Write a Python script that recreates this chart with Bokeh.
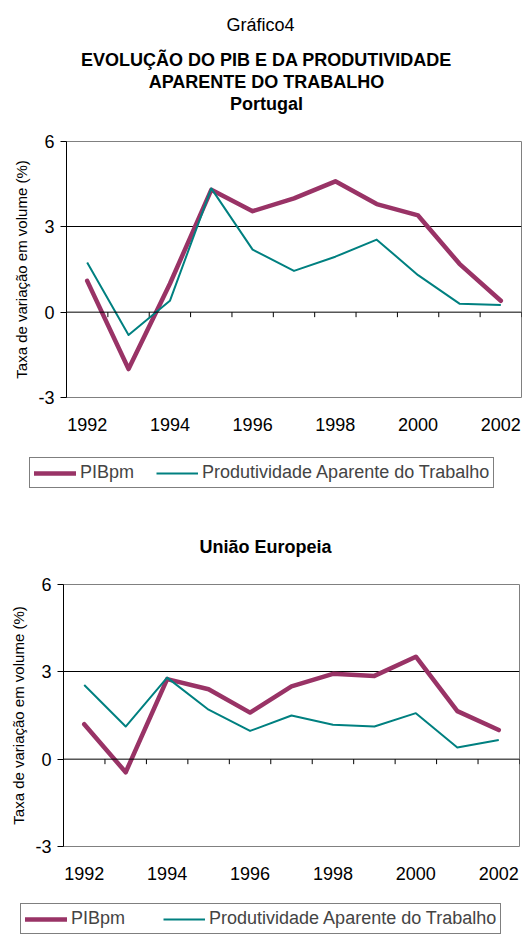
from bokeh.plotting import figure
from bokeh.models import Label, Legend, LegendItem, Span, FixedTicker
from bokeh.layouts import column
from bokeh.embed import file_html
from bokeh.resources import INLINE

# ---- data ----
years = ["1992", "1993", "1994", "1995", "1996", "1997", "1998", "1999", "2000", "2001", "2002"]
pt_pib = [1.1, -2.0, 1.0, 4.3, 3.55, 4.0, 4.6, 3.8, 3.4, 1.7, 0.4]
pt_prod = [1.75, -0.8, 0.4, 4.35, 2.2, 1.45, 1.95, 2.55, 1.3, 0.3, 0.25]
ue_pib = [1.2, -0.45, 2.75, 2.4, 1.6, 2.5, 2.93, 2.86, 3.52, 1.65, 1.0]
ue_prod = [2.55, 1.12, 2.8, 1.7, 0.97, 1.5, 1.18, 1.12, 1.58, 0.4, 0.66]
y_ticks = [-3, 0, 3, 6]
label_years = years[::2]
series_names = ["PIBpm", "Produtividade Aparente do Trabalho"]

FONT = "Liberation Sans"
PIB_COLOR = "#993366"
PROD_COLOR = "#008080"
W = 522
NAN = float("nan")


def blank(height):
    p = figure(width=W, height=height, x_range=(0, 1), y_range=(0, 1),
               x_axis_type=None, y_axis_type=None, output_backend="svg",
               toolbar_location=None, min_border=0, frame_align=False)
    p.outline_line_color = None
    p.grid.visible = False
    return p


def add_text(p, txt, x, y, bold):
    p.add_layout(Label(x=x, y=y, x_units="screen", y_units="screen", text=txt,
                       text_align="center", text_baseline="alphabetic",
                       text_font=FONT, text_font_size="18px",
                       text_font_style="bold" if bold else "normal",
                       text_color="black"))


def add_legend(p, x, y, spacing):
    # legend-only renderers (nothing visible in the frame)
    r1 = p.line([NAN], [NAN], line_color=PIB_COLOR, line_width=4.5, line_cap="round")
    r2 = p.line([NAN], [NAN], line_color=PROD_COLOR, line_width=2)
    legend = Legend(items=[LegendItem(label=series_names[0], renderers=[r1]),
                           LegendItem(label=series_names[1], renderers=[r2])],
                    orientation="horizontal", location=(x, y),
                    label_text_font=FONT, label_text_font_size="18px",
                    glyph_width=42, glyph_height=20, label_height=20,
                    label_standoff=4, spacing=spacing, padding=4, margin=0,
                    border_line_color="black", border_line_width=1,
                    background_fill_color="white", background_fill_alpha=1)
    p.add_layout(legend)


def make_chart(pib, prod, height, mb_left, mb_right, mb_top, mb_bottom):
    n = len(years)
    xs = list(range(n))
    p = figure(width=W, height=height, x_range=(-0.5, n - 0.5),
               y_range=(y_ticks[0], y_ticks[-1]),
               output_backend="svg", toolbar_location=None, frame_align=False,
               min_border_left=mb_left, min_border_right=mb_right,
               min_border_top=mb_top, min_border_bottom=mb_bottom)
    p.outline_line_color = "#808080"
    p.outline_line_width = 1

    p.xgrid.visible = False
    p.ygrid.ticker = FixedTicker(ticks=[3])
    p.ygrid.grid_line_color = "black"
    p.ygrid.grid_line_width = 1

    yax = p.yaxis[0]
    yax.ticker = FixedTicker(ticks=y_ticks)
    yax.major_label_overrides = {t: str(t) for t in y_ticks}
    yax.axis_line_color = "black"
    yax.major_tick_out = 6
    yax.major_tick_in = 0
    yax.minor_tick_line_color = None
    yax.major_label_text_font = FONT
    yax.major_label_text_font_size = "18px"
    yax.major_label_text_color = "black"
    yax.major_label_standoff = 6
    yax.axis_label = "Taxa de variação em volume (%)"
    yax.axis_label_text_font = FONT
    yax.axis_label_text_font_size = "15px"
    yax.axis_label_text_font_style = "normal"
    yax.axis_label_text_color = "black"
    yax.axis_label_standoff = 5

    xax = p.xaxis[0]
    xax.ticker = FixedTicker(ticks=[years.index(y) for y in label_years])
    xax.major_label_overrides = {years.index(y): y for y in label_years}
    xax.axis_line_color = None
    xax.major_tick_line_color = None
    xax.minor_tick_line_color = None
    xax.major_label_text_font = FONT
    xax.major_label_text_font_size = "18px"
    xax.major_label_text_color = "black"
    xax.major_label_standoff = 14

    p.add_layout(Span(location=0, dimension="width", line_color="black", line_width=1))
    frame_h = height - mb_top - mb_bottom
    tick_len = 5 * (y_ticks[-1] - y_ticks[0]) / frame_h
    bx = [i + 0.5 for i in range(n)]
    p.segment(x0=bx, y0=[0] * n, x1=bx, y1=[-tick_len] * n, line_color="black", line_width=1)

    p.line(xs, pib, line_color=PIB_COLOR, line_width=4.5, line_join="round", line_cap="round")
    p.line(xs, prod, line_color=PROD_COLOR, line_width=2, line_join="round")
    return p


# header (0-125)
header = blank(125)
add_text(header, "Gráfico4", 260, 101, False)
add_text(header, "EVOLUÇÃO DO PIB E DA PRODUTIVIDADE", 266, 66, True)
add_text(header, "APARENTE DO TRABALHO", 266, 44, True)
add_text(header, "Portugal", 266, 22, True)

# chart 1 (125-440)
p1 = make_chart(pt_pib, pt_prod, height=315, mb_left=66, mb_right=1, mb_top=16, mb_bottom=43)

# middle (440-570)
middle = blank(130)
add_legend(middle, 29, 82, 22)
add_text(middle, "União Europeia", 265, 24, True)

# chart 2 (570-885)
p2 = make_chart(ue_pib, ue_prod, height=315, mb_left=63, mb_right=3, mb_top=14, mb_bottom=39)

# footer (885-935)
footer = blank(50)
add_legend(footer, 20, 1, 38)

layout = column(header, p1, middle, p2, footer, spacing=0)
open("out.html", "w").write(file_html(layout, INLINE))
